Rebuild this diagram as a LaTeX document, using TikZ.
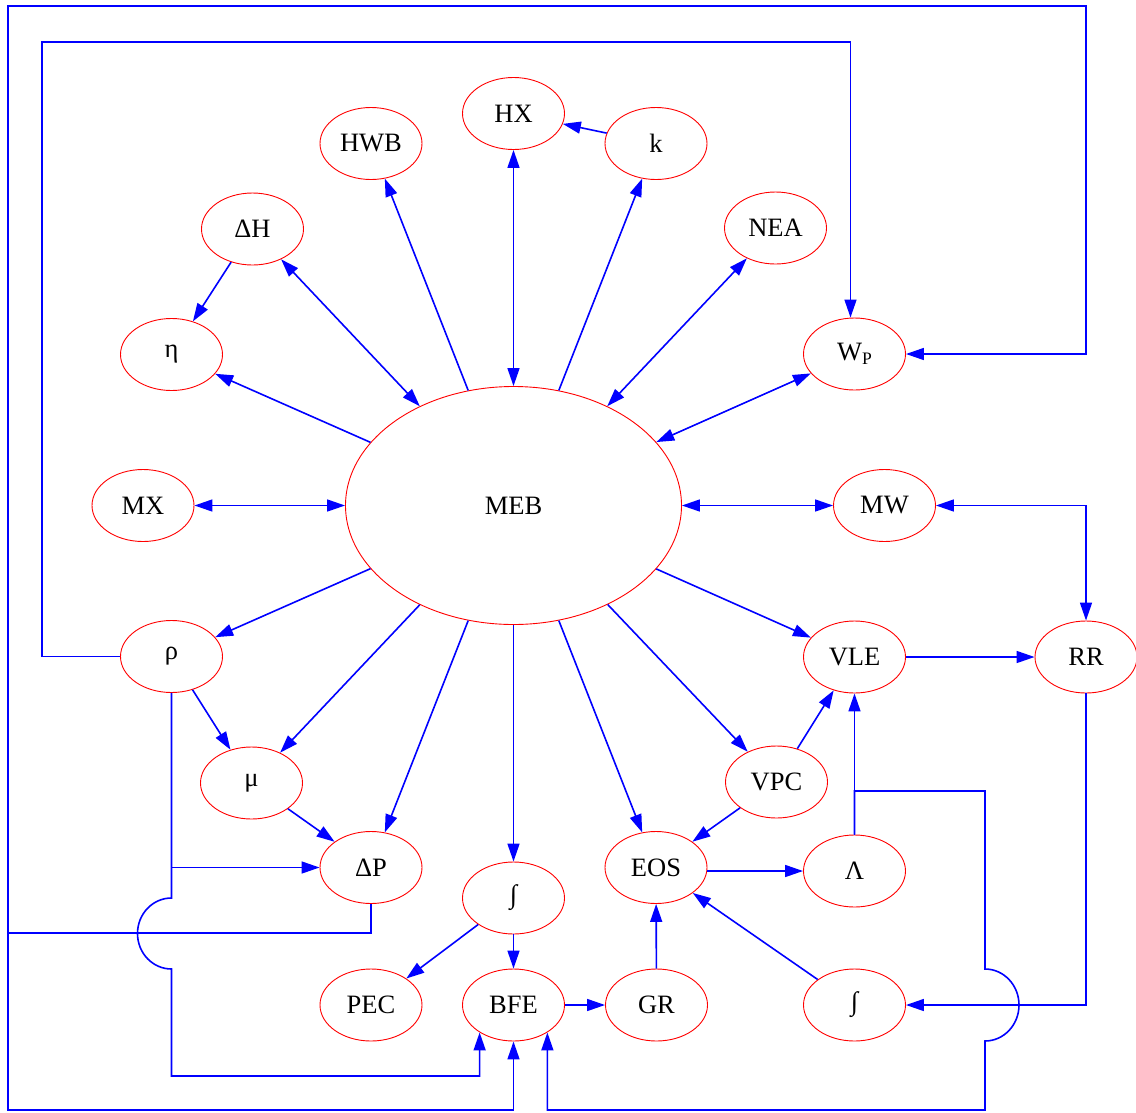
\documentclass[tikz,border=0pt]{standalone}
\usepackage{fontspec}
\setmainfont{Liberation Serif}
\usetikzlibrary{shapes.geometric,arrows.meta,calc}
\begin{document}
\begin{tikzpicture}[x=1pt,y=1pt,
  nd/.style={ellipse,draw=red,line width=0.9pt,minimum width=102pt,minimum height=72pt,inner sep=0pt,font=\fontsize{26.5}{30}\selectfont},
  conn/.style={draw=blue,line width=1.6pt,line join=miter,-{Triangle[length=18pt,width=12pt]}},
  bconn/.style={draw=blue,line width=1.6pt,{Triangle[length=18pt,width=12pt]}-{Triangle[length=18pt,width=12pt]}},
  plainconn/.style={draw=blue,line width=1.6pt,line join=miter}]
\fill[white] (0,0) rectangle (1136,-1112);
\useasboundingbox (0,0) rectangle (1136,-1112);

% nodes
\node[nd] (HX)  at (513.5,-113.5) {HX};
\node[nd] (k)   at (656,-143.5) {k};
\node[nd] (HWB) at (371,-143.5) {HWB};
\node[nd] (dH)  at (252.5,-229) {ΔH};
\node[nd] (NEA) at (775.5,-228) {NEA};
\node[nd] (eta) at (171.5,-354.5) {η};
\node[nd] (WP)  at (854.5,-354) {W\raisebox{-4pt}{\fontsize{17.5}{18}\selectfont P}};
\node[nd] (MX)  at (143,-505.5) {MX};
\node[nd,minimum width=336pt,minimum height=238pt] (MEB) at (513.5,-505.5) {MEB};
\node[nd] (MW)  at (884.5,-505.5) {MW};
\node[nd] (rho) at (171.5,-656.5) {ρ};
\node[nd] (VLE) at (854.5,-657) {VLE};
\node[nd] (RR)  at (1086,-657) {RR};
\node[nd] (mu)  at (251.5,-783) {μ};
\node[nd] (VPC) at (776.5,-782) {VPC};
\node[nd] (dP)  at (371,-867.5) {ΔP};
\node[nd] (EOS) at (656,-867.5) {EOS};
\node[nd] (Lam) at (854.5,-871) {Λ};
\node[nd] (int1) at (513.5,-898) {∫};
\node[nd] (PEC) at (371,-1005) {PEC};
\node[nd] (BFE) at (513.5,-1005) {BFE};
\node[nd] (GR)  at (656.5,-1005) {GR};
\node[nd] (int2) at (854.5,-1005) {∫};

% straight connectors
\draw[conn] (dH) -- (eta);
\draw[bconn] (MEB) -- (dH);
\draw[conn] (MEB) -- (eta);
\draw[conn] (MEB) -- (HWB);
\draw[bconn] (MEB) -- (HX);
\draw[conn] (MEB) -- (k);
\draw[conn] (k) -- (HX);
\draw[bconn] (MEB) -- (NEA);
\draw[bconn] (MEB) -- (WP);
\draw[bconn] (MX) -- (MEB);
\draw[bconn] (MEB) -- (MW);
\draw[conn] (MEB) -- (rho);
\draw[conn] (MEB) -- (mu);
\draw[conn] (MEB) -- (dP);
\draw[conn] (MEB) -- (int1);
\draw[conn] (MEB) -- (EOS);
\draw[conn] (MEB) -- (VPC);
\draw[conn] (MEB) -- (VLE);
\draw[conn] (VLE) -- (RR);
\draw[conn] (VPC) -- (VLE);
\draw[conn] (VPC) -- (EOS);
\draw[conn] (rho) -- (mu);
\draw[conn] (mu) -- (dP);
\draw[conn] (EOS.east |- Lam.west) -- (Lam.west);
\draw[conn] (int1) -- (PEC);
\draw[conn] (int1) -- (BFE);
\draw[conn] (BFE) -- (GR);
\draw[conn] (GR) -- (EOS);
\draw[conn] (int2) -- (EOS);
\draw[conn] (Lam.north) -- (VLE.south);

% orthogonal connectors
\coordinate (wpin) at ($(WP.north)+(-4,0)$);
\draw[conn] (rho.west) -- (42,-656.5) -- (42,-42) -| (wpin);
\draw[conn] (dP.south) -- (371,-933) -| (8,-6) -| (1086,-354) -- (WP.east);
\draw[conn] (dP.south) -- (371,-933) -| (8,-1110) -| (BFE.south);
\draw[conn] (rho.south) |- (dP.west);
\draw[conn] (rho.south) -- (171.5,-898) arc[start angle=90,end angle=270,x radius=34,y radius=35.5] -- (171.5,-1076) -| (BFE.-141);
\draw[bconn] (MW.east) -| (RR.north);
\draw[conn] (RR.south) |- (int2.east);
\draw[conn] (Lam.north) -- (854.5,-791) -- (985,-791) -- (985,-969) arc[start angle=90,end angle=-90,x radius=34,y radius=36] -- (985,-1110) -| (BFE.-39);
\end{tikzpicture}
\end{document}
